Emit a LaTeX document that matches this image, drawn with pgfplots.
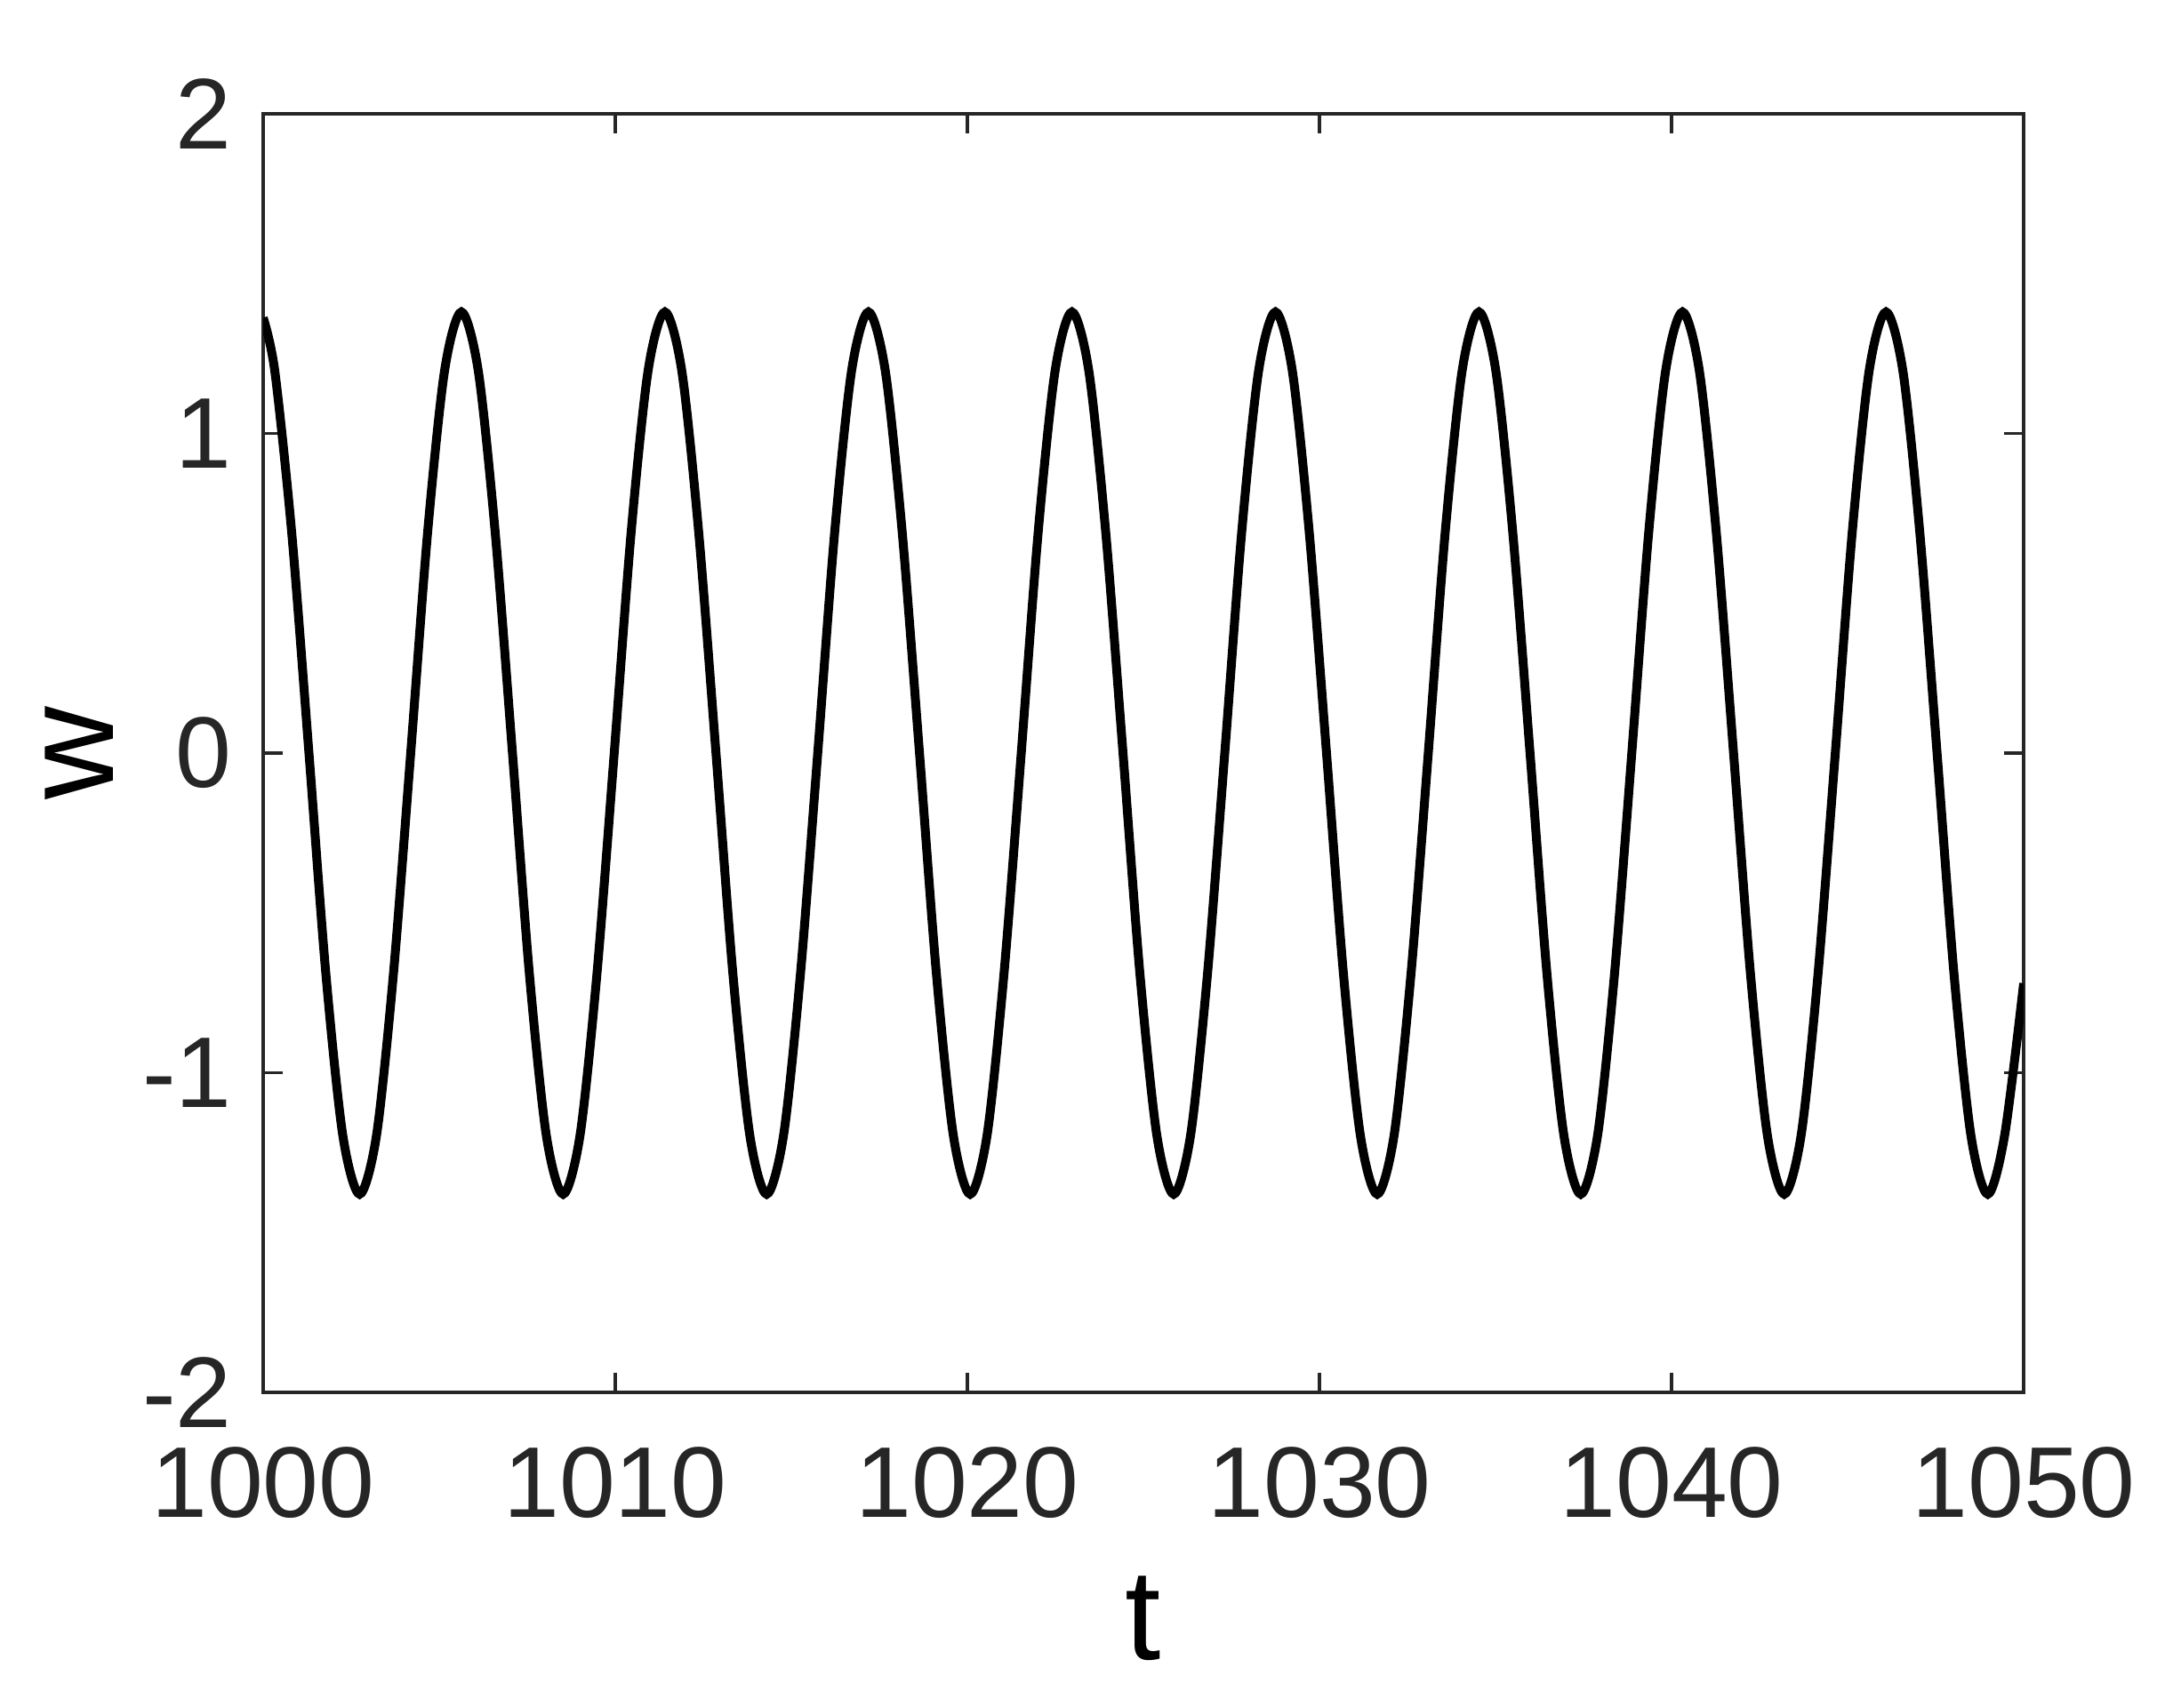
\documentclass[border=0pt]{standalone}
\usepackage{pgfplots}
\pgfplotsset{compat=1.18}
\usepackage{fontspec}
\setmainfont{Liberation Sans}
\definecolor{axgray}{HTML}{262626}

\begin{document}
\begin{tikzpicture}
\begin{axis}[
  name=ax, scale only axis,
  width=198pt, height=143.8pt,
  xmin=1000, xmax=1050, ymin=-2, ymax=2,
  xtick={1000,1010,...,1050}, ytick={-2,-1,0,1,2},
  tick align=inside, major tick length=2.2pt,
  axis line style={axgray, line width=0.4pt},
  tick style={axgray, line width=0.35pt},
  ticklabel style={font=\fontsize{11.3}{11.3}\selectfont, text=axgray},
  xticklabel style={yshift=-2.6pt},
  /pgf/number format/assume math mode=true,
  /pgf/number format/1000 sep={},
  xlabel={t}, ylabel={w},
  label style={font=\fontsize{14.5}{14.5}\selectfont, text=black},
  xlabel style={at={(axis description cs:0.5,-0.1766)}, anchor=center},
  ylabel style={at={(axis description cs:-0.1045,0.5)}, anchor=center},
]
\addplot[black, line width=1pt, smooth] coordinates {
(1000.00,1.362) (1000.33,1.195) (1000.81,0.69) (1001.30,0) (1001.78,-0.69) (1002.26,-1.195)
(1002.74,-1.38) (1003.22,-1.195) (1003.70,-0.69) (1004.19,0) (1004.67,0.69) (1005.15,1.195)
(1005.63,1.38) (1006.11,1.195) (1006.59,0.69) (1007.08,0) (1007.56,-0.69) (1008.04,-1.195)
(1008.52,-1.38) (1009.00,-1.195) (1009.48,-0.69) (1009.97,0) (1010.45,0.69) (1010.93,1.195)
(1011.41,1.38) (1011.89,1.195) (1012.37,0.69) (1012.86,0) (1013.34,-0.69) (1013.82,-1.195)
(1014.30,-1.38) (1014.78,-1.195) (1015.26,-0.69) (1015.75,0) (1016.23,0.69) (1016.71,1.195)
(1017.19,1.38) (1017.67,1.195) (1018.15,0.69) (1018.64,0) (1019.12,-0.69) (1019.60,-1.195)
(1020.08,-1.38) (1020.56,-1.195) (1021.04,-0.69) (1021.53,0) (1022.01,0.69) (1022.49,1.195)
(1022.97,1.38) (1023.45,1.195) (1023.93,0.69) (1024.42,0) (1024.90,-0.69) (1025.38,-1.195)
(1025.86,-1.38) (1026.34,-1.195) (1026.82,-0.69) (1027.31,0) (1027.79,0.69) (1028.27,1.195)
(1028.75,1.38) (1029.23,1.195) (1029.71,0.69) (1030.20,0) (1030.68,-0.69) (1031.16,-1.195)
(1031.64,-1.38) (1032.12,-1.195) (1032.60,-0.69) (1033.09,0) (1033.57,0.69) (1034.05,1.195)
(1034.53,1.38) (1035.01,1.195) (1035.49,0.69) (1035.98,0) (1036.46,-0.69) (1036.94,-1.195)
(1037.42,-1.38) (1037.90,-1.195) (1038.38,-0.69) (1038.87,0) (1039.35,0.69) (1039.83,1.195)
(1040.31,1.38) (1040.79,1.195) (1041.27,0.69) (1041.76,0) (1042.24,-0.69) (1042.72,-1.195)
(1043.20,-1.38) (1043.68,-1.195) (1044.16,-0.69) (1044.65,0) (1045.13,0.69) (1045.61,1.195)
(1046.09,1.38) (1046.57,1.195) (1047.05,0.69) (1047.54,0) (1048.02,-0.69) (1048.50,-1.195)
(1048.98,-1.38) (1049.46,-1.195) (1050.00,-0.72)
};
\end{axis}
\path[use as bounding box] ([shift={(-29.6pt,-35.4pt)}]ax.south west) rectangle ([shift={(16.8pt,12.8pt)}]ax.north east);
\end{tikzpicture}
\end{document}
